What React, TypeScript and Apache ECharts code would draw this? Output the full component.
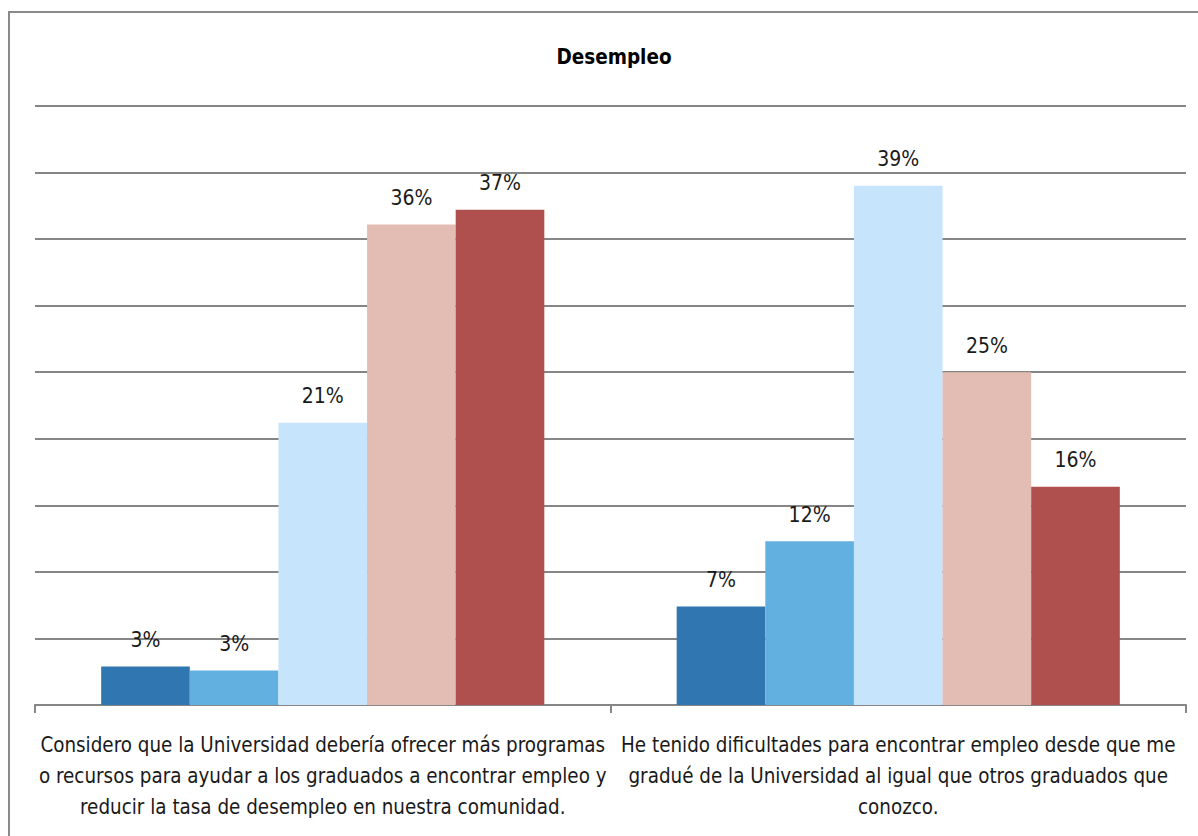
import React, { useEffect, useRef } from "react";
import * as echarts from "echarts";

const title = "Desempleo";
const categories = [
  "Considero que la Universidad debería ofrecer más programas\no recursos para ayudar a los graduados a encontrar empleo y\nreducir la tasa de desempleo en nuestra comunidad.",
  "He tenido dificultades para encontrar empleo desde que me\ngradué de la Universidad al igual que otros graduados que\nconozco.",
];
const seriesNames = ["Serie 1", "Serie 2", "Serie 3", "Serie 4", "Serie 5"];
const seriesColors = ["#3077B1", "#62B0DF", "#C7E4FD", "#E3BCB4", "#AF504E"];
const values1 = [2.9, 2.6, 21.2, 36.1, 37.2];
const values2 = [7.4, 12.3, 39.0, 25.0, 16.4];
const yMax = 45;
const yInterval = 5;

const FONT = "'DejaVu Sans Condensed', 'Liberation Sans Narrow', sans-serif";

export default function App() {
  const ref = useRef<HTMLDivElement>(null);
  useEffect(() => {
    if (!ref.current) return;
    const chart = echarts.init(ref.current, null, { renderer: "svg" });
    const series = seriesNames.map((name, i) => ({
      name,
      type: "bar",
      data: [values1[i], values2[i]],
      barGap: "0%",
      barCategoryGap: "23%",
      itemStyle: { color: seriesColors[i] },
      label: {
        show: true,
        position: "top",
        distance: 16,
        color: "#1a1a1a",
        fontFamily: FONT,
        fontSize: 21,
        formatter: (p: any) => Math.round(p.value) + "%",
      },
    }));
    chart.setOption({
      animation: false,
      backgroundColor: "#ffffff",
      title: {
        text: title,
        left: 609,
        textAlign: "center",
        top: 41,
        textStyle: { fontFamily: FONT, fontSize: 20.5, fontWeight: "bold", color: "#000" },
      },
      graphic: [
        {
          type: "rect",
          shape: { x: 9, y: 12, width: 1200, height: 840 },
          style: { fill: "none", stroke: "#8a8a8a", lineWidth: 2 },
        },
      ],
      grid: {
        left: 35,
        right: 12,
        top: 106,
        bottom: 131,
        containLabel: false,
        outerBoundsMode: "none",
      },
      xAxis: {
        type: "category",
        data: categories,
        axisLine: { lineStyle: { color: "#868686", width: 2 } },
        axisTick: { show: true, length: 8, lineStyle: { color: "#868686", width: 2 } },
        axisLabel: {
          interval: 0,
          margin: 24,
          fontFamily: FONT,
          fontSize: 20.4,
          lineHeight: 31,
          color: "#1a1a1a",
          align: "center",
        },
      },
      yAxis: {
        type: "value",
        min: 0,
        max: yMax,
        interval: yInterval,
        axisLabel: { show: false },
        axisLine: { show: false },
        axisTick: { show: false },
        splitLine: { lineStyle: { color: "#868686", width: 2 } },
      },
      series,
    });
    return () => chart.dispose();
  }, []);
  return (
    <div
      ref={ref}
      style={{ position: "fixed", left: 0, top: 0, width: 1198, height: 836, background: "#fff" }}
    />
  );
}
